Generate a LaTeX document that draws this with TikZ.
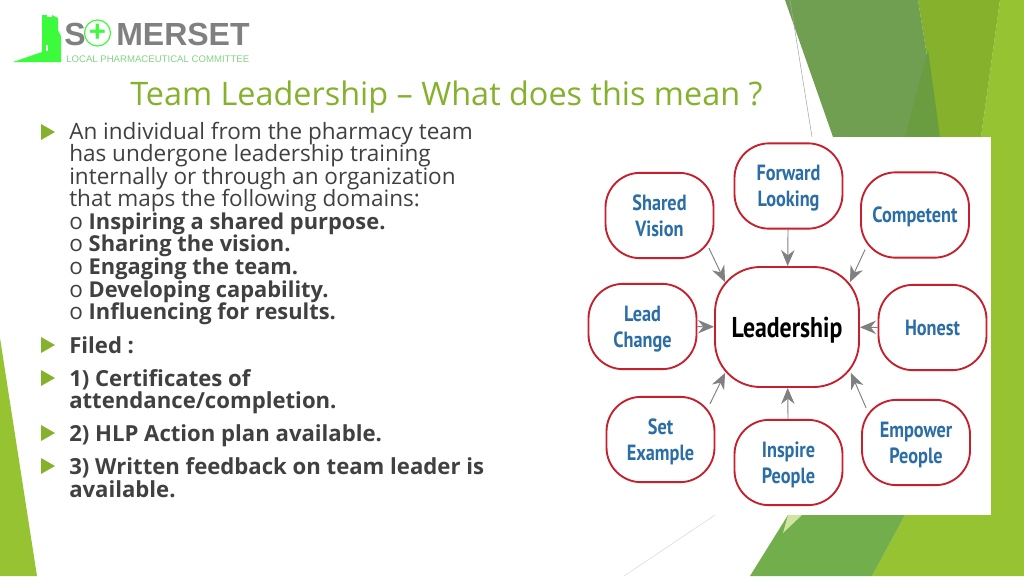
\documentclass[tikz,border=0pt]{standalone}
\usepackage{fontspec}
\setmainfont{Open Sans}
\newfontfamily\logofont{Liberation Sans}
\newfontfamily\boxfont[FakeStretch=0.83]{PT Sans}
\usetikzlibrary{arrows.meta}
\definecolor{leafgreen}{HTML}{96C332}
\definecolor{midgreen}{HTML}{85B12D}
\definecolor{mossgreen}{HTML}{719F52}
\definecolor{darkmoss}{HTML}{6A9C40}
\definecolor{lowgreen}{HTML}{72AE4B}
\definecolor{logogreen}{HTML}{3CFB3C}
\definecolor{bodygray}{HTML}{404040}
\definecolor{boxred}{HTML}{C4202E}
\definecolor{boxblue}{HTML}{2B6DA5}
\tikzset{
  body/.style={anchor=base west, inner sep=0pt, text=bodygray, font=\fontsize{16.9}{18}\selectfont},
  boldbody/.style={body, font=\fontsize{16.6}{18}\selectfont\bfseries},
  item/.style={body, font=\fontsize{16.9}{18}\selectfont},
  tag/.style={draw=boxred, line width=1.4pt, fill=white, rounded corners=26pt, align=center, inner sep=0pt,
    minimum width=81pt, minimum height=64pt, text=boxblue, text depth=0pt, font=\boxfont\bfseries\fontsize{16.5}{19.5}\selectfont},
  link/.style={draw=gray, line width=0.7pt, -{Stealth[length=12pt,width=10pt]}},
  bullet/.style={fill=midgreen}
}
\newcommand{\bolditem}[1]{o \textbf{\fontsize{16.4}{18}\selectfont #1}}
\begin{document}
\begin{tikzpicture}[x=0.75pt, y=-0.75pt]
\useasboundingbox (0,0) rectangle (1024,576);
% background shapes
\fill[leafgreen] (1000,0) -- (1024,0) -- (1024,576) -- (872,576) -- (905,515) -- (981,137) -- cycle;
\fill[midgreen] (918,0) -- (1000,0) -- (981,137) -- (940,137) -- cycle;
\fill[mossgreen] (785,0) -- (918,0) -- (940,137) -- (833,137) -- cycle;
\fill[darkmoss] (928,50) -- (940,137) -- (905,137) -- cycle;
\fill[lowgreen] (788,515) -- (905,515) -- (872,576) -- (750,576) -- cycle;
\fill[leafgreen!45] (788,515) -- (802,515) -- (783,533) -- cycle;
\fill[leafgreen] (0,338) -- (37,576) -- (0,576) -- cycle;
\draw[gray!70, line width=0.4pt] (790,0) -- (812,137);
\draw[gray!30, line width=0.4pt] (715,515) -- (624,576);
% logo
\fill[logogreen] (13,62) -- (42,52) -- (42,15) -- (47,15) -- (47,17) -- (52,17) -- (52,15) -- (58,18) -- (58,30) -- (61,36) -- (61,62) -- cycle;
\fill[white] (46,45) rectangle (48,51);
\node[anchor=base west, inner sep=0pt, text=gray, font=\logofont\bfseries\fontsize{24}{26}\selectfont] (logoS) at (64,45) {S};
\node[circle, draw=logogreen, line width=0.9pt, minimum size=19.5pt, inner sep=0pt, text=logogreen, font=\logofont\bfseries\fontsize{22}{22}\selectfont] (logoplus) at (97.5,33) {+};
\node[anchor=base west, inner sep=0pt, text=gray, font=\logofont\bfseries\fontsize{24}{26}\selectfont] (logoname) at (116,45) {MERSET};
\node[anchor=base west, inner sep=0pt, text=logogreen!55!gray!75!white, font=\logofont\fontsize{7.2}{8}\selectfont] (logosub) at (66,62) {LOCAL PHARMACEUTICAL COMMITTEE};
% title
\node[anchor=base west, inner sep=0pt, text=midgreen, font=\fontsize{24.3}{28}\selectfont] (title) at (130,105) {Team Leadership -- What does this mean ?};
% bullets
\foreach \y in {132,345,378,433,466}
  \fill[bullet] (41,\y-8) -- (55,\y) -- (41,\y+8) -- cycle;
% text lines
\node[body] (line1) at (69,139) {An individual from the pharmacy team};
\node[body] (line2) at (69,161.5) {has undergone leadership training};
\node[body] (line3) at (69,184) {internally or through an organization};
\node[body] (line4) at (69,206.5) {that maps the following domains:};
\node[item] (line5) at (69,229) {\bolditem{Inspiring a shared purpose.}};
\node[item] (line6) at (69,251.5) {\bolditem{Sharing the vision.}};
\node[item] (line7) at (69,274) {\bolditem{Engaging the team.}};
\node[item] (line8) at (69,297) {\bolditem{Developing capability.}};
\node[item] (line9) at (69,319) {\bolditem{Influencing for results.}};
\node[boldbody] (filed) at (69,353) {Filed :};
\node[boldbody] (cert1) at (69,386) {1) Certificates of};
\node[boldbody] (cert2) at (69,408) {attendance/completion.};
\node[boldbody] (plan) at (69,441) {2) HLP Action plan available.};
\node[boldbody] (feed1) at (69,474) {3) Written feedback on team leader is};
\node[boldbody] (feed2) at (69,497) {available.};
% leadership picture
\fill[white] (585,137) rectangle (991,515);
\node[tag, minimum width=108pt, minimum height=90pt, rounded corners=34pt, text=black, font=\boxfont\bfseries\fontsize{21.5}{24}\selectfont] (leadership) at (787,327) {Leadership};
\node[tag] (forward) at (788.5,186) {Forward\\Looking};
\node[tag] (shared) at (659.5,215.5) {Shared\\Vision};
\node[tag] (competent) at (915,215) {Competent};
\node[tag] (lead) at (642.5,326.5) {Lead\\Change};
\node[tag] (honest) at (932.5,327.5) {Honest};
\node[tag] (set) at (660.5,439.5) {Set\\Example};
\node[tag] (inspire) at (788.5,462.5) {Inspire\\People};
\node[tag] (empower) at (916,442.5) {Empower\\People};
\draw[link] (forward) -- (leadership);
\draw[link] (inspire) -- (leadership);
\draw[link] (lead) -- (leadership);
\draw[link] (honest) -- (leadership);
\draw[link] ([shift={(-5.5,-11)}]shared.south east) -- ([shift={(11,16)}]leadership.north west);
\draw[link] ([shift={(5,-9)}]competent.south west) -- ([shift={(-10,16)}]leadership.north east);
\draw[link] ([shift={(-5.5,8)}]set.north east) -- ([shift={(11,-15)}]leadership.south west);
\draw[link] ([shift={(5,9)}]empower.north west) -- ([shift={(-9,-15)}]leadership.south east);
\end{tikzpicture}
\end{document}
